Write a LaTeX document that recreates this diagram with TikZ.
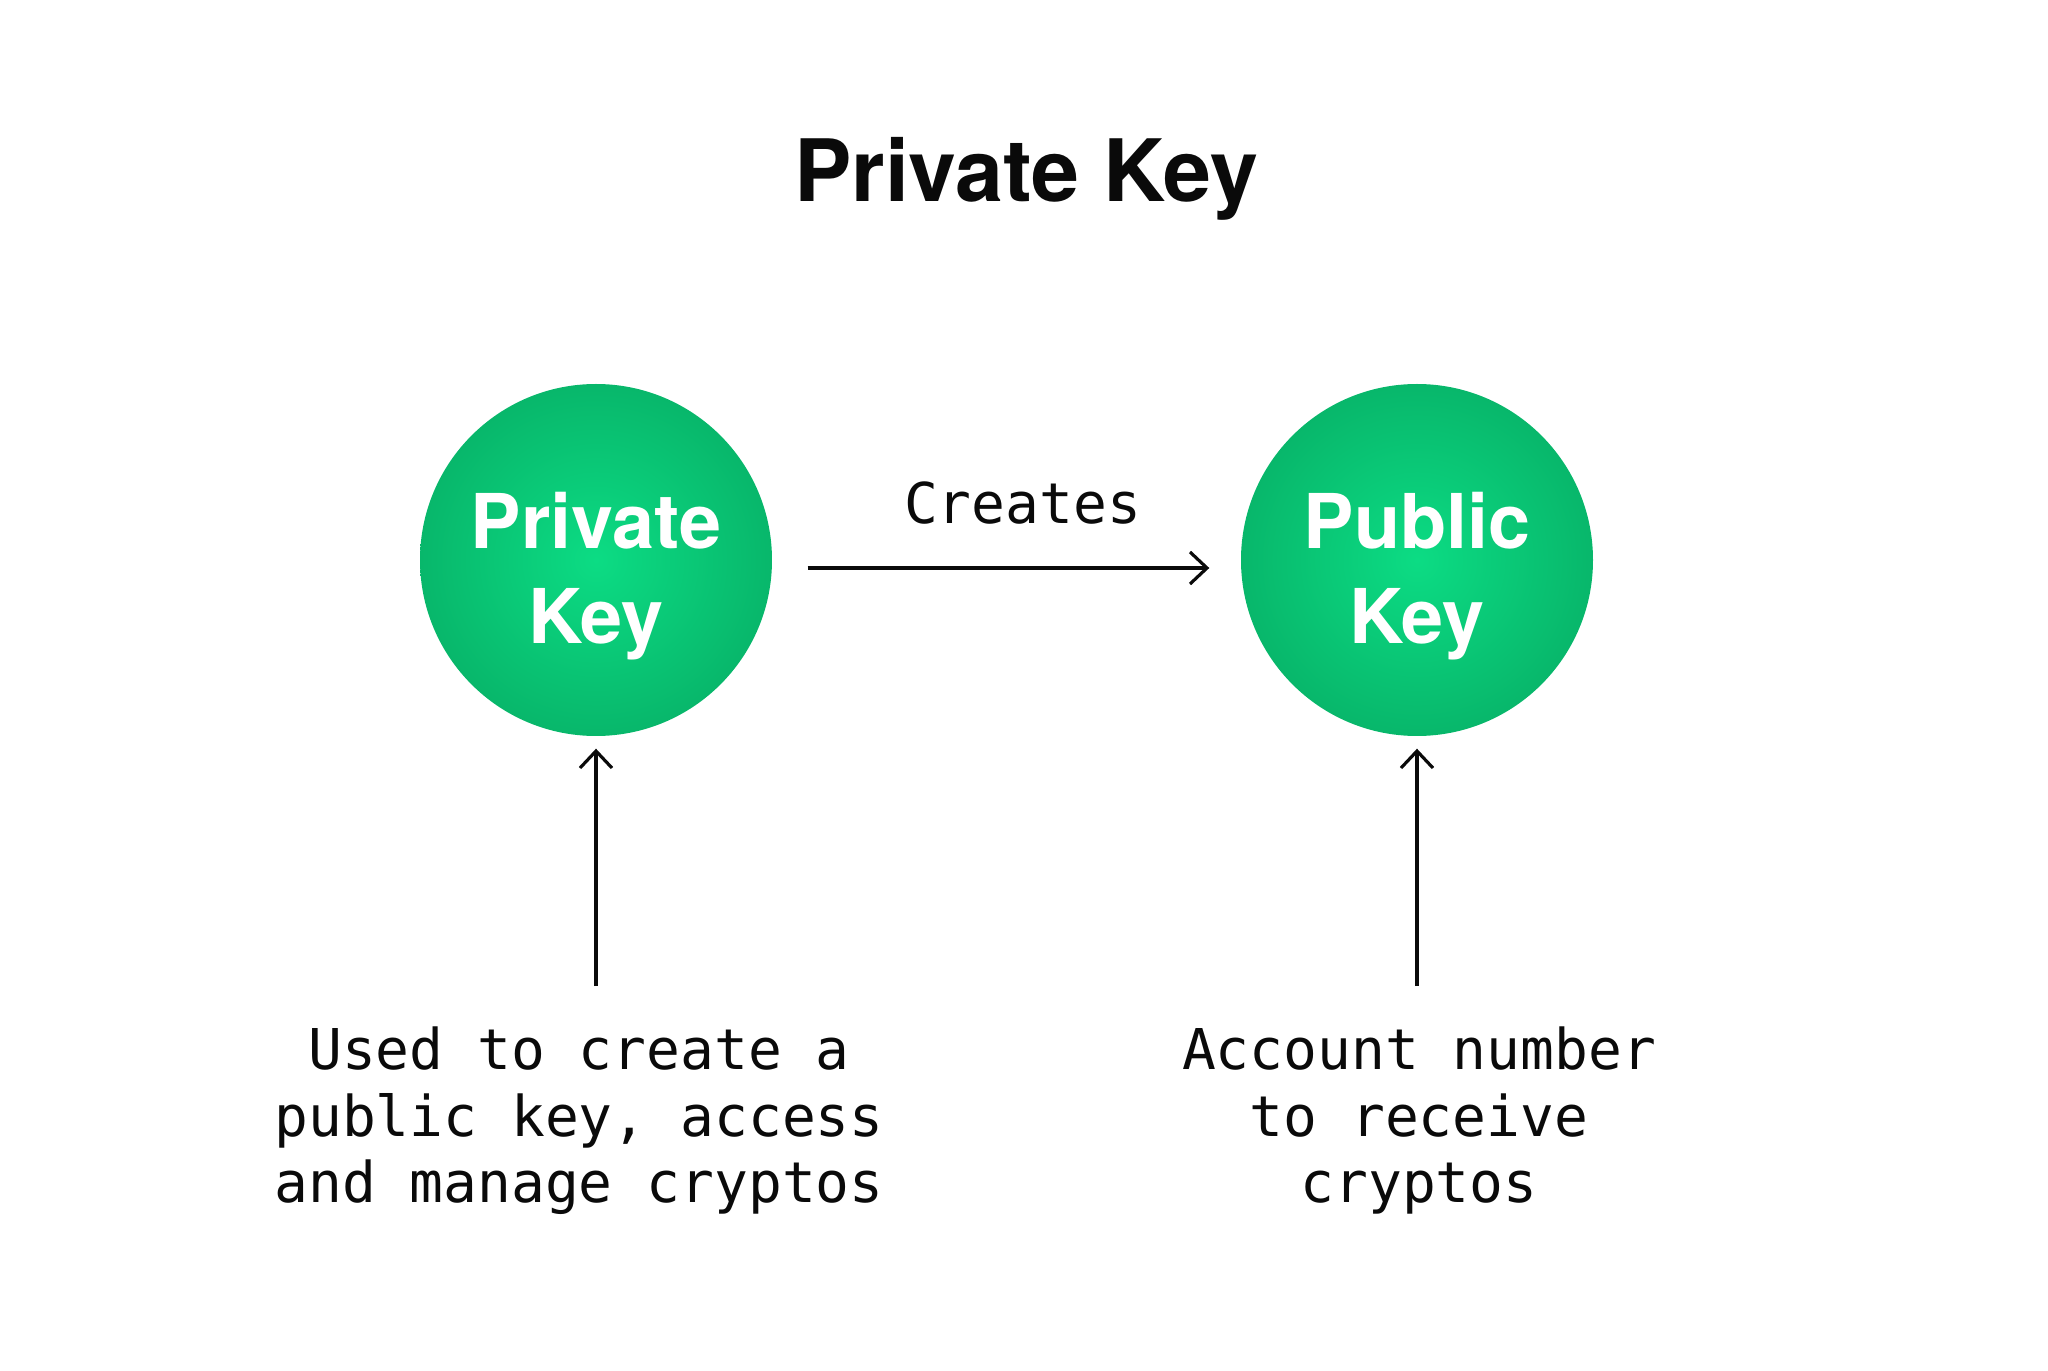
\documentclass[tikz,border=0pt]{standalone}
\usepackage{fontspec}
\setmainfont{TeX Gyre Heros}
\newfontfamily\monofont{DejaVu Sans Mono}
\usetikzlibrary{arrows.meta, positioning}
\definecolor{keygreenin}{HTML}{0CDC84}
\definecolor{keygreenout}{HTML}{08B76B}
\definecolor{inkblack}{HTML}{0A0A0A}

\begin{document}
\begin{tikzpicture}[
    keycircle/.style={circle, minimum size=3.52cm, inner sep=0pt, shading=radial, inner color=keygreenin, outer color=keygreenout},
    keytext/.style={text=white, align=center, inner sep=0pt, font=\bfseries\fontsize{21.5}{27}\selectfont},
    note/.style={align=center, inner sep=0pt, anchor=north, text=inkblack, font=\monofont\fontsize{16}{19}\selectfont},
    arrow/.style={-{Straight Barb[length=1.7mm, width=3.2mm]}, line width=0.9pt, color=inkblack},
]
\useasboundingbox (0,0) rectangle (20.48,13.70);

% Title
\node[anchor=base, font=\bfseries\fontsize{24.5}{29}\selectfont, text=inkblack] (title) at (10.26, 11.68) {Private Key};

% Key circles
\node[keycircle, label={[keytext, yshift=-0.16cm]center:Private\\Key}] (priv) at (5.96, 8.10) {};
\node[keycircle, label={[keytext, yshift=-0.16cm]center:Public\\Key}] (pub) at (14.17, 8.10) {};

% Creates arrow
\draw[arrow, shorten <=0.35cm, shorten >=0.31cm] ([yshift=-0.08cm]priv.east) -- ([yshift=-0.08cm]pub.west)
    node[midway, above=0.42cm, xshift=0.16cm, inner sep=0pt, font=\monofont\fontsize{16}{19}\selectfont, text=inkblack] (creates) {Creates};

% Descriptions
\node[note] (privnote) at (5.79, 3.44) {Used to create a\\public key, access\\and manage cryptos};
\node[note] (pubnote) at (14.19, 3.44) {Account number\\to receive\\cryptos};

% Arrows up to the circles
\coordinate (privfoot) at (5.96, 3.84);
\coordinate (pubfoot) at (14.17, 3.84);
\draw[arrow, shorten >=0.12cm] (privfoot) -- (priv.south);
\draw[arrow, shorten >=0.12cm] (pubfoot) -- (pub.south);

\end{tikzpicture}
\end{document}
